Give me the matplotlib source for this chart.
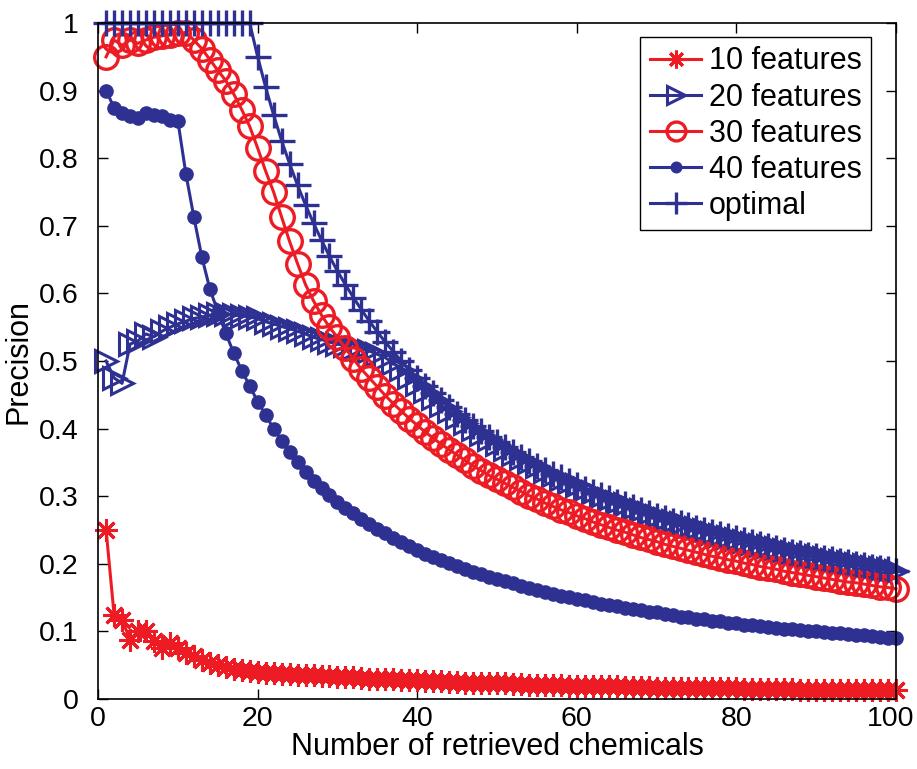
import matplotlib
matplotlib.use("Agg")
import matplotlib.pyplot as plt
from matplotlib.transforms import ScaledTranslation

# retrieved chemicals (x axis)
k = list(range(1, 101))

# precision values
p10 = [0.25, 0.125, 0.117, 0.088, 0.1, 0.1, 0.086, 0.075, 0.083, 0.075,
       0.068, 0.063, 0.058, 0.054, 0.05, 0.048, 0.045, 0.043, 0.041, 0.04,
       0.039, 0.038, 0.037, 0.037, 0.036, 0.035, 0.035, 0.034, 0.034, 0.033,
       0.033, 0.032, 0.031, 0.03, 0.03, 0.029, 0.029, 0.028, 0.028, 0.028,
       0.027, 0.026, 0.026, 0.025, 0.025, 0.024, 0.024, 0.024, 0.023, 0.023,
       0.023, 0.022, 0.022, 0.021, 0.021, 0.021, 0.021, 0.021, 0.02, 0.02,
       0.02, 0.019, 0.019, 0.019, 0.019, 0.018, 0.018, 0.018, 0.018, 0.017,
       0.017, 0.017, 0.017, 0.017, 0.016, 0.016, 0.016, 0.016, 0.016, 0.016,
       0.015, 0.015, 0.015, 0.015, 0.015, 0.015, 0.015, 0.014, 0.014, 0.014,
       0.014, 0.014, 0.014, 0.014, 0.014, 0.013, 0.013, 0.013, 0.013, 0.013]

p20 = [0.5, 0.475, 0.467, 0.525, 0.53, 0.54, 0.536, 0.544, 0.55, 0.555,
       0.559, 0.563, 0.565, 0.568, 0.57, 0.57, 0.568, 0.567, 0.565, 0.563,
       0.558, 0.555, 0.551, 0.548, 0.544, 0.54, 0.535, 0.532, 0.528, 0.525,
       0.523, 0.52, 0.518, 0.515, 0.51, 0.505, 0.497, 0.488, 0.477, 0.466,
       0.455, 0.445, 0.435, 0.426, 0.417, 0.408, 0.4, 0.392, 0.384, 0.377,
       0.37, 0.363, 0.356, 0.35, 0.344, 0.338, 0.332, 0.326, 0.321, 0.316,
       0.311, 0.306, 0.301, 0.296, 0.292, 0.288, 0.283, 0.279, 0.275, 0.271,
       0.267, 0.263, 0.26, 0.256, 0.253, 0.25, 0.246, 0.243, 0.24, 0.237,
       0.234, 0.231, 0.228, 0.226, 0.223, 0.22, 0.218, 0.215, 0.213, 0.211,
       0.208, 0.206, 0.204, 0.202, 0.2, 0.198, 0.196, 0.194, 0.192, 0.19]

p30 = [0.95, 0.975, 0.967, 0.975, 0.97, 0.975, 0.979, 0.981, 0.983, 0.985,
       0.986, 0.975, 0.962, 0.946, 0.93, 0.915, 0.895, 0.872, 0.847, 0.815,
       0.781, 0.75, 0.713, 0.677, 0.644, 0.613, 0.589, 0.568, 0.55, 0.535,
       0.519, 0.503, 0.488, 0.475, 0.462, 0.449, 0.437, 0.426, 0.415, 0.405,
       0.395, 0.386, 0.377, 0.369, 0.361, 0.353, 0.345, 0.338, 0.331, 0.325,
       0.319, 0.313, 0.307, 0.301, 0.296, 0.29, 0.285, 0.28, 0.276, 0.271,
       0.267, 0.262, 0.258, 0.254, 0.25, 0.247, 0.243, 0.239, 0.236, 0.233,
       0.229, 0.226, 0.223, 0.22, 0.217, 0.214, 0.211, 0.209, 0.206, 0.204,
       0.201, 0.199, 0.196, 0.194, 0.192, 0.189, 0.187, 0.185, 0.183, 0.181,
       0.179, 0.177, 0.175, 0.173, 0.172, 0.17, 0.168, 0.166, 0.165, 0.163]

p40 = [0.9, 0.875, 0.867, 0.863, 0.86, 0.867, 0.864, 0.863, 0.856, 0.855,
       0.777, 0.713, 0.654, 0.607, 0.573, 0.541, 0.512, 0.486, 0.463, 0.44,
       0.42, 0.4, 0.382, 0.366, 0.35, 0.336, 0.323, 0.312, 0.302, 0.292,
       0.283, 0.275, 0.267, 0.259, 0.252, 0.245, 0.238, 0.232, 0.226, 0.221,
       0.215, 0.21, 0.206, 0.201, 0.197, 0.192, 0.188, 0.185, 0.181, 0.177,
       0.174, 0.171, 0.167, 0.164, 0.161, 0.159, 0.156, 0.153, 0.151, 0.148,
       0.146, 0.144, 0.141, 0.139, 0.137, 0.135, 0.133, 0.131, 0.129, 0.128,
       0.126, 0.124, 0.122, 0.121, 0.119, 0.118, 0.116, 0.115, 0.113, 0.112,
       0.11, 0.109, 0.108, 0.107, 0.105, 0.104, 0.103, 0.102, 0.101, 0.1,
       0.099, 0.098, 0.097, 0.096, 0.095, 0.094, 0.093, 0.092, 0.091, 0.09]

p_opt = [1.0] * 19 + [
    0.95, 0.905, 0.864, 0.826, 0.792, 0.76, 0.731, 0.704, 0.679, 0.655,
    0.633, 0.613, 0.594, 0.576, 0.559, 0.543, 0.528, 0.514, 0.5, 0.487,
    0.475, 0.463, 0.452, 0.442, 0.432, 0.422, 0.413, 0.404, 0.396, 0.388,
    0.38, 0.373, 0.365, 0.358, 0.352, 0.345, 0.339, 0.333, 0.328, 0.322,
    0.317, 0.311, 0.306, 0.302, 0.297, 0.292, 0.288, 0.284, 0.279, 0.275,
    0.271, 0.268, 0.264, 0.26, 0.257, 0.253, 0.25, 0.247, 0.244, 0.241,
    0.238, 0.235, 0.232, 0.229, 0.226, 0.224, 0.221, 0.218, 0.216, 0.213,
    0.211, 0.209, 0.207, 0.204, 0.202, 0.2, 0.198, 0.196, 0.194, 0.192, 0.19]

labels = ['10 features', '20 features', '30 features', '40 features', 'optimal']

RED = '#ED1C24'
BLUE = '#2E3192'
FS = 22

plt.rcParams['font.family'] = ['Liberation Sans', 'DejaVu Sans']

fig = plt.figure(figsize=(9.17, 7.69), dpi=100)
ax = fig.add_axes([0.107, 0.091, 0.870, 0.879])

lw = 2.2
ax.plot(k, p10, color=RED, lw=lw, marker=(8, 2, 0), ms=16, mew=2.2,
        label=labels[0], clip_on=False)
ax.plot(k, p20, color=BLUE, lw=lw, marker='>', ms=16, mew=2.2, mfc='none',
        label=labels[1], clip_on=False)
ax.plot(k, p30, color=RED, lw=lw, marker='o', ms=17, mew=2.4, mfc='none',
        label=labels[2], clip_on=False)
ax.plot(k, p40, color=BLUE, lw=lw, marker='o', ms=9.5, mew=1.0,
        label=labels[3], clip_on=False)
ax.plot(k, p_opt, color=BLUE, lw=lw, marker='+', ms=19, mew=2.4,
        label=labels[4], clip_on=False)

ax.set_xlim(0, 100)
ax.set_ylim(0, 1)
ax.set_xticks([0, 20, 40, 60, 80, 100])
yt = [i / 10 for i in range(11)]
ax.set_yticks(yt)
ax.set_yticklabels(['0'] + ['%.1f' % v for v in yt[1:-1]] + ['1'])
ax.tick_params(direction='in', top=True, right=True, labelsize=20.5,
               length=7, width=1)
ax.tick_params(axis='x', pad=5)
ax.tick_params(axis='y', pad=14)
for s in ax.spines.values():
    s.set_linewidth(1.2)

# nudge the "100" label so it stays inside the canvas
last = ax.get_xticklabels()[-1]
last.set_transform(last.get_transform() + ScaledTranslation(-5 / 100, 0, fig.dpi_scale_trans))

ax.set_xlabel('Number of retrieved chemicals', fontsize=FS, labelpad=0)
ax.set_ylabel('Precision', fontsize=FS, labelpad=4)

leg = ax.legend(loc='upper right', bbox_to_anchor=(0.969, 0.979),
                fontsize=FS, fancybox=False, edgecolor='black', framealpha=1,
                borderaxespad=0, handlelength=1.7, handletextpad=0.25,
                labelspacing=0.2, borderpad=0.3, markerscale=0.8)
leg.get_frame().set_linewidth(1.0)

fig.savefig('out.png', dpi=100)
